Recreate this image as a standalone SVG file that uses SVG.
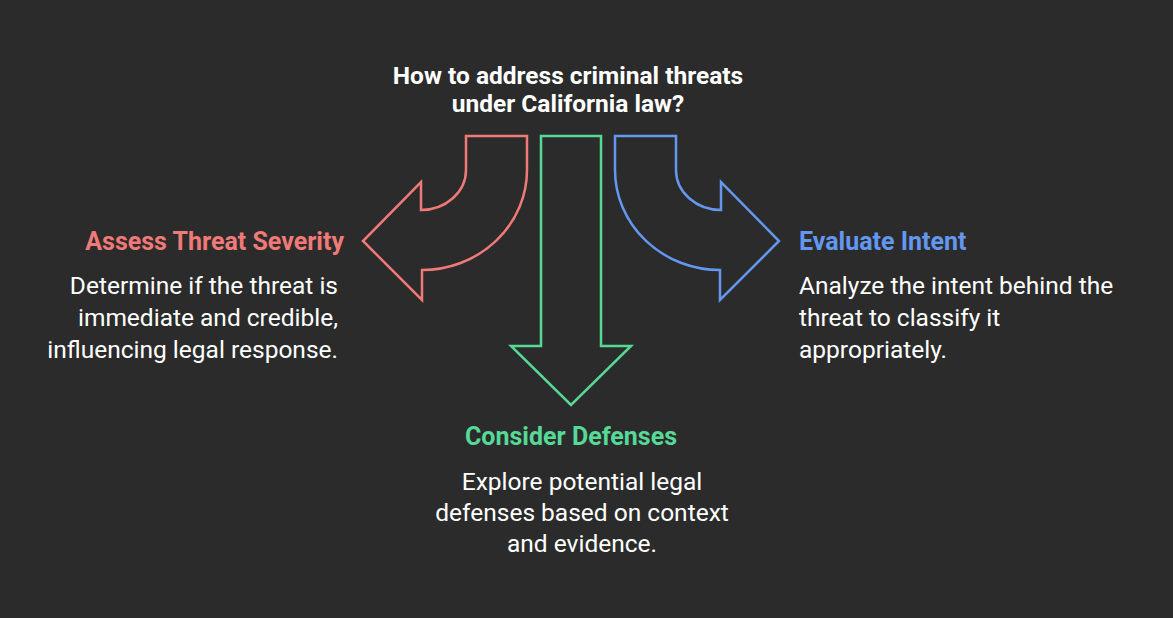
<svg xmlns="http://www.w3.org/2000/svg" width="1173" height="618" viewBox="0 0 1173 618">
<style>
text{font-family:Roboto,"Liberation Sans",sans-serif;}
.t{font-weight:bold;font-size:24.5px;fill:#ffffff}
.h{font-weight:bold;font-size:25px}
.b{font-size:24.5px;fill:#ffffff}
.a{fill:none;stroke-width:2.5;stroke-linejoin:miter}
</style>
<rect width="1173" height="618" fill="#2b2b2b"/>
<g id="title"><text class="t" x="568" y="84" text-anchor="middle">How to address criminal threats</text><text class="t" x="568" y="112" text-anchor="middle">under California law?</text></g>
<g id="connectors">
<path class="a" stroke="#f07a78" d="M466,136 H527 V170 A105,100 0 0 1 422,270 V300 L363,241 L421,182 V210 A45,40 0 0 0 466,170 Z"/>
<path class="a" stroke="#56d996" d="M541,136 H601 V346 H631 L571,405 L511,346 H541 Z"/>
<path class="a" stroke="#6497ef" d="M676,136 H615 V170 A105,100 0 0 0 720,270 V300 L779,241 L721,182 V210 A45,40 0 0 1 676,170 Z"/>
</g>
<g id="assess"><text class="h" fill="#f07a78" x="344" y="250" text-anchor="end">Assess Threat Severity</text>
<text class="b" text-anchor="end"><tspan x="338" y="294">Determine if the threat is</tspan><tspan x="338" y="326">immediate and credible,</tspan><tspan x="338" y="358">influencing legal response.</tspan></text></g>
<g id="intent"><text class="h" fill="#6497ef" x="799" y="250">Evaluate Intent</text>
<text class="b"><tspan x="799" y="294">Analyze the intent behind the</tspan><tspan x="799" y="326">threat to classify it</tspan><tspan x="799" y="358">appropriately.</tspan></text></g>
<g id="defenses"><text class="h" fill="#56d996" x="571" y="445" text-anchor="middle">Consider Defenses</text>
<text class="b" text-anchor="middle"><tspan x="582" y="490">Explore potential legal</tspan><tspan x="582" y="521">defenses based on context</tspan><tspan x="582" y="552">and evidence.</tspan></text></g>
</svg>
